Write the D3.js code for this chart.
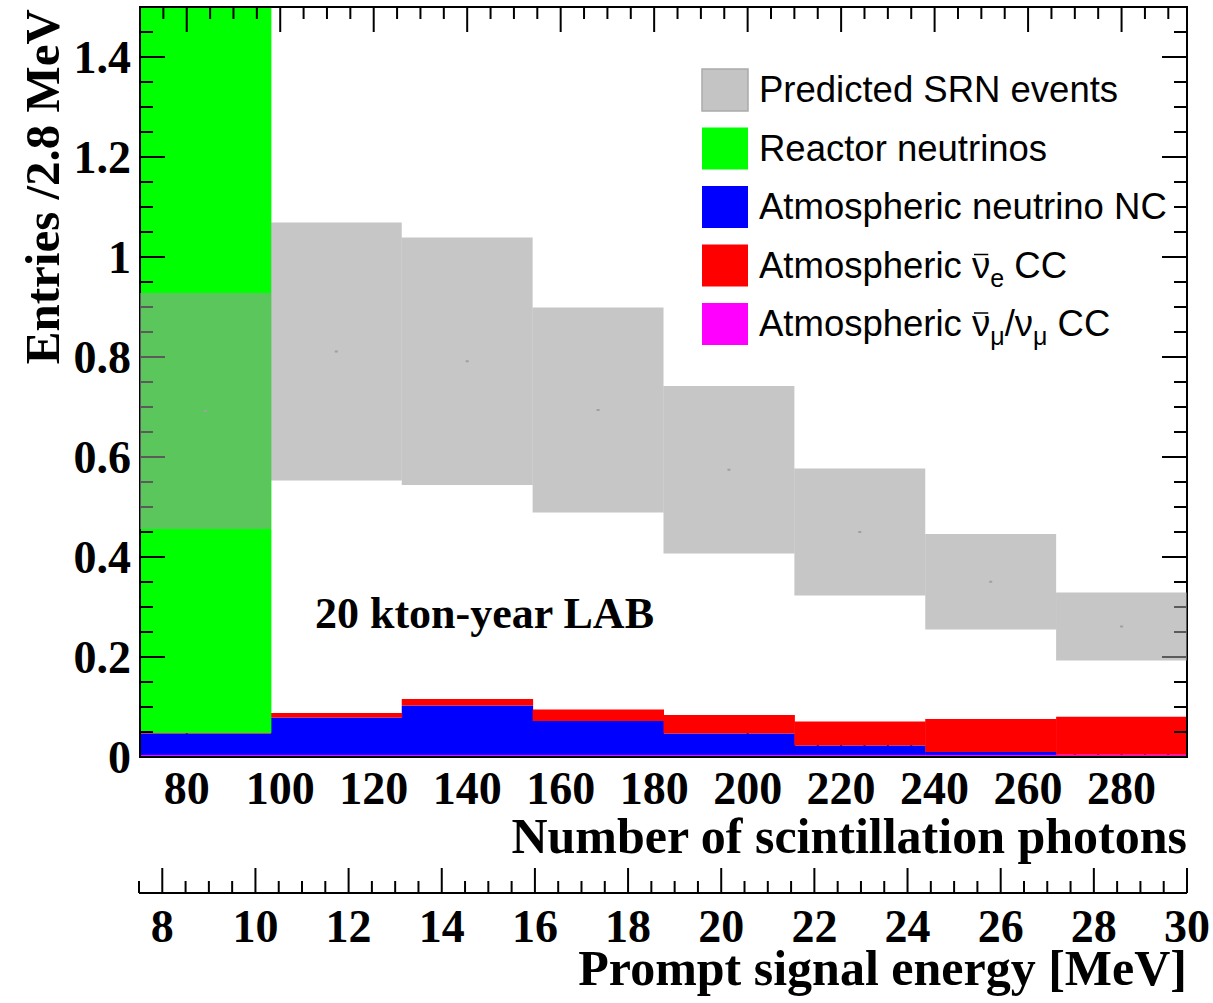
<!DOCTYPE html>
<html>
<head>
<meta charset="utf-8">
<script src="https://cdn.jsdelivr.net/npm/d3@7"></script>
<style>
  body { margin: 0; background: #fff; }
  svg { display: block; }
  .serif { font-family: "Liberation Serif", "Times New Roman", serif; font-weight: bold; }
  .sans { font-family: "Liberation Sans", Arial, Helvetica, sans-serif; }
</style>
</head>
<body>
<svg id="chart" width="1213" height="1003"></svg>
<script>
// bin edges in number of scintillation photons (8 bins of 2.8 MeV)
const binEdges = [70, 98, 126, 154, 182, 210, 238, 266, 294];

// predicted SRN band (lower / upper edge per bin)
const srnLow  = [0.456, 0.553, 0.544, 0.489, 0.407, 0.323, 0.255, 0.193];
const srnHigh = [0.928, 1.069, 1.039, 0.899, 0.742, 0.577, 0.446, 0.329];

// stacked backgrounds, bottom to top
const atmNumuCC = [0.004, 0.004, 0.004, 0.004, 0.004, 0.004, 0.004, 0.004];
const atmNC     = [0.043, 0.075, 0.099, 0.068, 0.043, 0.019, 0.006, 0.0005];
const atmNueCC  = [0.001, 0.009, 0.013, 0.023, 0.037, 0.048, 0.066, 0.076];
const reactor   = [1.8, 0, 0, 0, 0, 0, 0, 0];   // off scale in first bin

// axis ticks
const yTickValues = [0, 0.2, 0.4, 0.6, 0.8, 1, 1.2, 1.4];
const yTickLabels = ["0", "0.2", "0.4", "0.6", "0.8", "1", "1.2", "1.4"];
const photonTicks = [80, 100, 120, 140, 160, 180, 200, 220, 240, 260, 280];
const energyTicks = [8, 10, 12, 14, 16, 18, 20, 22, 24, 26, 28, 30];

const legendItems = [
  { key: "srn",  color: "#c4c4c4", parts: [["Predicted SRN events"]] },
  { key: "reac", color: "#00ff00", parts: [["Reactor neutrinos"]] },
  { key: "nc",   color: "#0000ff", parts: [["Atmospheric neutrino NC"]] },
  { key: "nue",  color: "#ff0000", parts: [["Atmospheric "], ["ν", "bar"], ["e", "sub"], [" CC"]] },
  { key: "numu", color: "#ff00ff", parts: [["Atmospheric "], ["ν", "bar"], ["μ", "sub"], ["/ν"], ["μ", "sub"], [" CC"]] }
];

const plotL = 140, plotR = 1187, plotT = 7, plotB = 757;

const svg = d3.select("#chart");

const x = d3.scaleLinear().domain([70, 294]).range([plotL, plotR]);
const y = d3.scaleLinear().domain([0, 1.5]).range([plotB, plotT]);
const e = d3.scaleLinear().domain([7.5, 30]).range([139, 1187]);

svg.append("defs").append("clipPath").attr("id", "plotClip")
  .append("rect").attr("x", plotL).attr("y", plotT).attr("width", plotR - plotL).attr("height", plotB - plotT);

// bottom photon ticks sit under the histograms
const minorPhoton = x.ticks(45);
svg.append("g").selectAll("line")
  .data(minorPhoton)
  .join("line")
  .attr("x1", d => x(d)).attr("x2", d => x(d))
  .attr("y1", plotB).attr("y2", d => plotB - (photonTicks.includes(d) ? 25 : 12))
  .attr("stroke", "#000").attr("stroke-width", 2);

// stacked histogram
const bins = d3.range(8).map(i => ({
  x0: binEdges[i], x1: binEdges[i + 1],
  numu: atmNumuCC[i], nc: atmNC[i], nue: atmNueCC[i], reac: reactor[i]
}));
const stack = d3.stack().keys(["numu", "nc", "nue", "reac"])(bins);
const colors = { numu: "#ff00ff", nc: "#0000ff", nue: "#ff0000", reac: "#00ff00" };

const hist = svg.append("g").attr("clip-path", "url(#plotClip)");
stack.forEach(layer => {
  hist.append("g").selectAll("rect")
    .data(layer)
    .join("rect")
    .attr("x", d => x(d.data.x0))
    .attr("width", d => x(d.data.x1) - x(d.data.x0) + 0.5)
    .attr("y", d => y(d[1]))
    .attr("height", d => Math.max(0, y(d[0]) - y(d[1])))
    .attr("fill", colors[layer.key]);
});

// left / right y ticks
const yMinor = y.ticks(30);
["left", "right"].forEach(side => {
  const x0 = side === "left" ? plotL : plotR;
  const dir = side === "left" ? 1 : -1;
  svg.append("g").selectAll("line")
    .data(yMinor)
    .join("line")
    .attr("x1", x0)
    .attr("x2", d => x0 + dir * (yTickValues.some(v => Math.abs(v - d) < 1e-6) ? 25 : 13))
    .attr("y1", d => y(d)).attr("y2", d => y(d))
    .attr("stroke", "#000").attr("stroke-width", 2);
});

// top photon ticks
svg.append("g").selectAll("line")
  .data(minorPhoton)
  .join("line")
  .attr("x1", d => x(d)).attr("x2", d => x(d))
  .attr("y1", plotT).attr("y2", d => plotT + (photonTicks.includes(d) ? 25 : 12))
  .attr("stroke", "#000").attr("stroke-width", 2);

// frame
svg.append("rect")
  .attr("x", plotL).attr("y", plotT)
  .attr("width", plotR - plotL).attr("height", plotB - plotT)
  .attr("fill", "none").attr("stroke", "#000").attr("stroke-width", 2);

// SRN band, translucent, drawn over everything
const band = svg.append("g");
band.selectAll("rect.box")
  .data(d3.range(8))
  .join("rect")
  .attr("class", "box")
  .attr("x", i => x(binEdges[i]))
  .attr("width", i => x(binEdges[i + 1]) - x(binEdges[i]))
  .attr("y", i => y(srnHigh[i]))
  .attr("height", i => y(srnLow[i]) - y(srnHigh[i]))
  .attr("fill", "#9c9c9c").attr("fill-opacity", 0.58);
band.selectAll("rect.mid")
  .data(d3.range(8))
  .join("rect")
  .attr("class", "mid")
  .attr("x", i => x((binEdges[i] + binEdges[i + 1]) / 2) - 1.5)
  .attr("y", i => y((srnLow[i] + srnHigh[i]) / 2) - 1)
  .attr("width", 3).attr("height", 2)
  .attr("fill", "#a0a0a0");

// y tick labels
svg.append("g").selectAll("text")
  .data(yTickValues)
  .join("text")
  .attr("class", "serif")
  .attr("x", 131)
  .attr("y", d => y(d) + 16)
  .attr("text-anchor", "end")
  .attr("font-size", 46)
  .text((d, i) => yTickLabels[i]);

// photon tick labels
svg.append("g").selectAll("text")
  .data(photonTicks)
  .join("text")
  .attr("class", "serif")
  .attr("x", d => x(d))
  .attr("y", 804)
  .attr("text-anchor", "middle")
  .attr("font-size", 46)
  .text(d => d);

svg.append("text")
  .attr("class", "serif")
  .attr("x", plotR).attr("y", 853)
  .attr("text-anchor", "end")
  .attr("font-size", 50)
  .text("Number of scintillation photons");

// energy axis
const eAxis = svg.append("g");
eAxis.append("line")
  .attr("x1", e(7.5)).attr("x2", e(30))
  .attr("y1", 893).attr("y2", 893)
  .attr("stroke", "#000").attr("stroke-width", 2);
eAxis.selectAll("line.t")
  .data(e.ticks(45))
  .join("line")
  .attr("class", "t")
  .attr("x1", d => e(d)).attr("x2", d => e(d))
  .attr("y1", 893).attr("y2", d => 893 - (energyTicks.includes(d) ? 25 : 12))
  .attr("stroke", "#000").attr("stroke-width", 2);
eAxis.selectAll("text")
  .data(energyTicks)
  .join("text")
  .attr("class", "serif")
  .attr("x", d => e(d))
  .attr("y", 942)
  .attr("text-anchor", "middle")
  .attr("font-size", 46)
  .text(d => d);

svg.append("text")
  .attr("class", "serif")
  .attr("x", plotR).attr("y", 985)
  .attr("text-anchor", "end")
  .attr("font-size", 50)
  .text("Prompt signal energy [MeV]");

// y title
svg.append("text")
  .attr("class", "serif")
  .attr("transform", "translate(59,9) rotate(-90)")
  .attr("text-anchor", "end")
  .attr("font-size", 49)
  .text("Entries /2.8 MeV");

// annotation
svg.append("text")
  .attr("class", "serif")
  .attr("x", 315).attr("y", 628)
  .attr("font-size", 44)
  .text("20 kton-year LAB");

// legend
const legend = svg.append("g");
legendItems.forEach((item, i) => {
  const cy = 90 + i * 58.5;
  legend.append("rect")
    .attr("x", 702).attr("y", cy - 21)
    .attr("width", 46).attr("height", 42)
    .attr("fill", item.color)
    .attr("stroke", item.key === "srn" ? "#aaaaaa" : "none")
    .attr("stroke-width", 1.5);

  const t = legend.append("text")
    .attr("class", "sans")
    .attr("x", 759).attr("y", cy + 12)
    .attr("font-size", 36.5);
  const bars = [];
  let idx = 0;
  let prevKind = null;
  item.parts.forEach(([str, kind]) => {
    const ts = t.append("tspan").text(str);
    if (kind === "sub") ts.attr("font-size", 25).attr("dy", 9);
    else if (prevKind === "sub") ts.attr("dy", -9);
    if (kind === "bar") bars.push(idx);
    idx += str.length;
    prevKind = kind;
  });
  bars.forEach(ci => {
    const ext = t.node().getExtentOfChar(ci);
    legend.append("line")
      .attr("x1", ext.x + 2).attr("x2", ext.x + ext.width - 2)
      .attr("y1", cy - 11).attr("y2", cy - 11)
      .attr("stroke", "#000").attr("stroke-width", 1.5);
  });
});
</script>
</body>
</html>
